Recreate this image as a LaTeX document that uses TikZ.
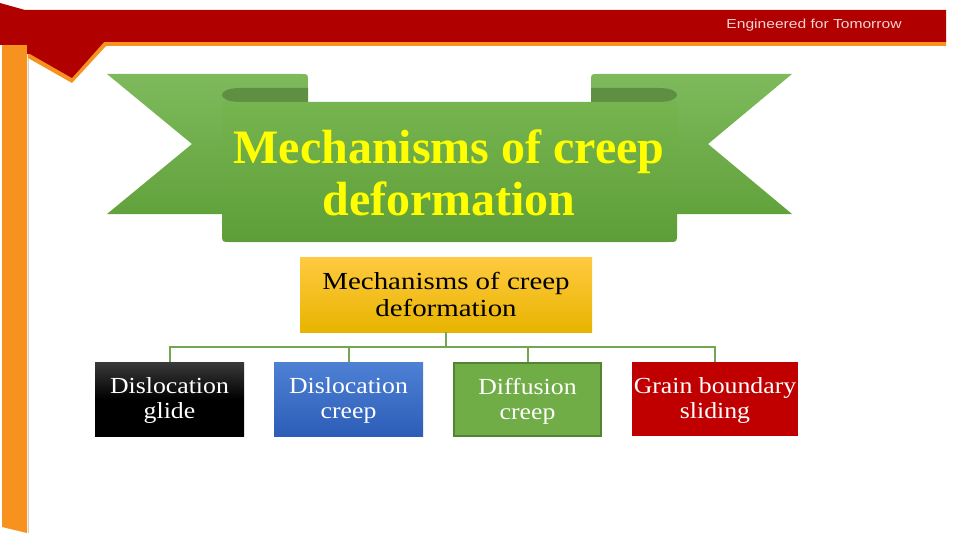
\documentclass[tikz,border=0pt]{standalone}
\usepackage{fontspec}
\setmainfont{Liberation Serif}
\newfontfamily\boxfont[FakeStretch=1.12]{Liberation Serif}
\newfontfamily\topfont[FakeStretch=1.18]{Liberation Serif}
\newfontfamily\hdrfont[FakeStretch=1.2]{Liberation Sans}
\definecolor{hdrred}{RGB}{176,0,0}
\definecolor{hdrorange}{RGB}{247,146,30}
\definecolor{hdrtext}{RGB}{245,212,212}
\definecolor{shadowgray}{RGB}{215,205,195}
\definecolor{tailtop}{RGB}{126,186,92}
\definecolor{tailbot}{RGB}{98,162,60}
\definecolor{bodytop}{RGB}{118,180,80}
\definecolor{bodybot}{RGB}{94,158,56}
\definecolor{rolldark}{RGB}{94,143,66}
\definecolor{titleyellow}{RGB}{255,255,0}
\definecolor{goldtop}{RGB}{255,202,64}
\definecolor{goldbot}{RGB}{232,180,0}
\definecolor{blacktop}{RGB}{58,58,58}
\definecolor{bluetop}{RGB}{78,128,212}
\definecolor{bluebot}{RGB}{44,94,184}
\definecolor{difgreen}{RGB}{112,173,71}
\definecolor{difborder}{RGB}{82,132,52}
\definecolor{gbred}{RGB}{192,0,0}
\definecolor{conngreen}{RGB}{115,165,82}
\newcommand{\lowstrut}{\rule{0pt}{19.5pt}}
\tikzset{
  chartbox/.style={minimum width=149pt, minimum height=74pt, inner sep=0pt,
    align=center, text=white, font=\boxfont\fontsize{23}{25}\selectfont},
  conn/.style={draw=conngreen, line width=2pt},
}
\begin{document}
\begin{tikzpicture}[x=1pt,y=-1pt]
\useasboundingbox (0,0) rectangle (960,540);
% header
\fill[hdrorange] (2,44) -- (27,44) -- (27,533) -- (2,527) -- cycle;
\draw[shadowgray, line width=1.5pt] (28.5,58) -- (28.5,533);
\fill[hdrorange] (27,40) -- (946,40) -- (946,46) -- (106,46) -- (72,83) -- (28,58) -- cycle;
\fill[hdrred] (0,3) -- (25,10) -- (946,10) -- (946,42) -- (104,42) -- (72,78) -- (30,54) -- (27,54) -- (27,45) -- (0,45) -- cycle;
\node[font=\hdrfont\fontsize{13}{15}\selectfont, text=hdrtext, anchor=base, inner sep=0pt] (hdr) at (814,28.5) {Engineered for Tomorrow};
% ribbon
\shade[top color=tailtop, bottom color=tailbot] (107,74) -- (301,74) .. controls (308,74) .. (308,81) -- (308,214) -- (107,214) -- (192,144) -- cycle;
\shade[top color=tailtop, bottom color=tailbot] (792,74) -- (598,74) .. controls (591,74) .. (591,81) -- (591,214) -- (792,214) -- (708,144) -- cycle;
\fill[rolldark] (308,88) -- (240,88) .. controls (216,88) and (216,102) .. (240,102) -- (308,102) -- cycle;
\fill[rolldark] (591,88) -- (659,88) .. controls (683,88) and (683,102) .. (659,102) -- (591,102) -- cycle;
\shade[top color=bodytop, bottom color=bodybot] (222,102) -- (677,102) -- (677,234) .. controls (677,242) .. (669,242) -- (230,242) .. controls (222,242) .. (222,234) -- cycle;
\node[font=\bfseries\fontsize{48}{52}\selectfont, text=titleyellow, align=center, inner sep=0pt] (title) at (449,172.5) {Mechanisms of creep\\deformation};
% chart
\node[top color=goldtop, bottom color=goldbot, minimum width=292pt, minimum height=75pt, inner sep=0pt, align=center, font=\topfont\fontsize{24.5}{27}\selectfont] (top) at (446,294.5) {Mechanisms of creep\\deformation};
\node[chartbox, top color=blacktop, bottom color=black, middle color=black] (b1) at (169.5,399) {\lowstrut Dislocation\\glide};
\node[chartbox, top color=bluetop, bottom color=bluebot] (b2) at (348.5,399) {\lowstrut Dislocation\\creep};
\node[chartbox, fill=difgreen, draw=difborder, line width=2pt, minimum width=147pt, minimum height=73pt] (b3) at (527.5,399.5) {\lowstrut Diffusion\\creep};
\node[chartbox, fill=gbred, minimum width=166pt] (b4) at (715,399) {\lowstrut Grain boundary\\sliding};
\draw[conn] (top.south) -- ++(0,15) -| (b1.north);
\draw[conn] (top.south) -- ++(0,15) -| (b2.north);
\draw[conn] (top.south) -- ++(0,15) -| (b3.north);
\draw[conn] (top.south) -- ++(0,15) -| (b4.north);
\end{tikzpicture}
\end{document}
